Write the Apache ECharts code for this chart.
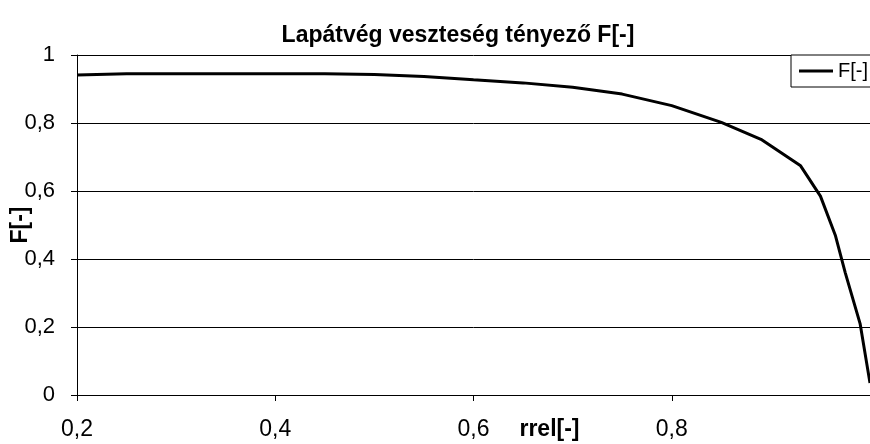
<!DOCTYPE html>
<html>
<head>
<meta charset="utf-8">
<script src="https://cdn.jsdelivr.net/npm/echarts@6/dist/echarts.min.js"></script>
<style>
  html, body { margin: 0; padding: 0; background: #fff; }
  #chart { width: 870px; height: 444px; }
</style>
</head>
<body>
<div id="chart"></div>
<script>
// rrel[-] értékek és a hozzájuk tartozó F[-]
var rrel = [0.2, 0.25, 0.3, 0.35, 0.4, 0.45, 0.5, 0.55, 0.6, 0.65, 0.7, 0.75, 0.8, 0.85,
  0.89, 0.93, 0.95, 0.965, 0.975, 0.98, 0.99, 1.0];
var fValues = [0.941, 0.945, 0.945, 0.945, 0.945, 0.945, 0.943, 0.937, 0.927, 0.918, 0.905, 0.885, 0.851, 0.802,
  0.752, 0.674, 0.585, 0.47, 0.36, 0.31, 0.21, 0.035];
var yTicks = [0, 0.2, 0.4, 0.6, 0.8, 1];

var chart = echarts.init(document.getElementById('chart'), null, { renderer: 'canvas' });

function comma(v) {
  return parseFloat(v.toFixed(2)).toString().replace('.', ',');
}

var points = rrel.map(function (x, i) { return [x, fValues[i]]; });

var option = {
  backgroundColor: '#fff',
  textStyle: { fontFamily: 'Liberation Sans, Arial, sans-serif', color: '#000' },
  title: {
    text: 'Lapátvég veszteség tényező F[-]',
    left: 453,
    textAlign: 'center',
    top: 19,
    textStyle: { fontSize: 23, fontWeight: 'bold', color: '#000', fontFamily: 'Liberation Sans' }
  },
  legend: {
    data: [{ name: 'F[-]', icon: 'rect' }],
    left: 791,
    top: 55,
    orient: 'vertical',
    padding: [6, 10, 6, 8],
    borderColor: '#000',
    borderWidth: 1,
    backgroundColor: '#fff',
    itemWidth: 34,
    itemHeight: 3,
    itemGap: 0,
    itemStyle: { color: '#000' },
    textStyle: { fontSize: 20, color: '#000', fontFamily: 'Liberation Sans' }
  },
  grid: { left: 77, right: 0, top: 55, bottom: 49, containLabel: false, outerBoundsMode: 'none' },
  xAxis: {
    type: 'value',
    min: 0.2,
    max: 1,
    interval: 0.2,
    name: 'rrel[-]',
    nameLocation: 'middle',
    nameGap: 23,
    nameMoveOverlap: false,
    nameTextStyle: { fontSize: 23, fontWeight: 'bold', color: '#000', padding: [0, 0, 0, 152] },
    axisLine: { show: true, lineStyle: { color: '#000', width: 1 } },
    axisTick: { show: true, inside: false, length: 6, lineStyle: { color: '#000' } },
    axisLabel: {
      fontSize: 23,
      color: '#000',
      margin: 23,
      formatter: function (v) { return v >= 1 ? '' : comma(v); }
    },
    splitLine: { show: false }
  },
  yAxis: {
    type: 'value',
    min: 0,
    max: 1,
    interval: 0.2,
    name: 'F[-]',
    nameLocation: 'middle',
    nameGap: 45,
    nameMoveOverlap: false,
    nameTextStyle: { fontSize: 23, fontWeight: 'bold', color: '#000' },
    axisLine: { show: true, lineStyle: { color: '#000', width: 1 } },
    axisTick: { show: true, inside: false, length: 6, lineStyle: { color: '#000' } },
    axisLabel: {
      fontSize: 22,
      color: '#000',
      margin: 22,
      formatter: function (v) { return comma(v); }
    },
    splitLine: { show: true, lineStyle: { color: '#000', width: 1 } }
  },
  series: [{
    name: 'F[-]',
    type: 'line',
    data: points,
    symbol: 'none',
    showSymbol: false,
    lineStyle: { color: '#000', width: 3 },
    itemStyle: { color: '#000' },
    animation: false
  }],
  animation: false
};

chart.setOption(option);
</script>
</body>
</html>
